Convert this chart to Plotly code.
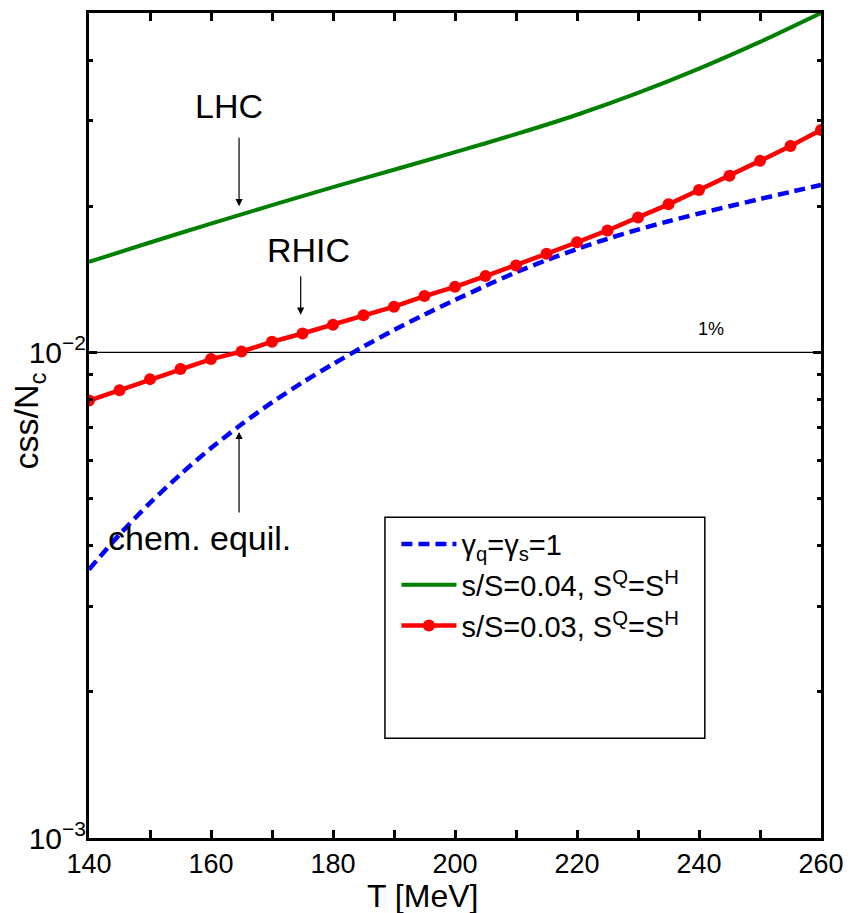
import math
import plotly.graph_objects as go

# ---- data ----
T_red = [140, 145, 150, 155, 160, 165, 170, 175, 180, 185, 190, 195, 200,
         205, 210, 215, 220, 225, 230, 235, 240, 245, 250, 255, 260]
css_red = [0.00796, 0.00836, 0.00881, 0.00924, 0.00969, 0.01004, 0.01052,
           0.01094, 0.01140, 0.01193, 0.01242, 0.01306, 0.01365, 0.01436,
           0.01510, 0.01596, 0.01686, 0.01783, 0.01897, 0.02018, 0.02160,
           0.02310, 0.02480, 0.02660, 0.02870]

T_blue = [140, 145, 150, 155, 160, 165, 170, 175, 180, 185, 190, 195, 200,
          205, 210, 215, 220, 225, 230, 235, 240, 245, 250, 255, 260]
css_blue = [0.003573, 0.004217, 0.004898, 0.005610, 0.006353, 0.007112,
            0.007889, 0.008670, 0.009462, 0.010280, 0.011117, 0.011967,
            0.012823, 0.013709, 0.014622, 0.015488, 0.016331, 0.017140,
            0.017906, 0.018621, 0.019320, 0.020000, 0.020701, 0.021404,
            0.022131]

T_green = [140, 150, 160, 170, 180, 190, 200, 210, 220, 230, 240, 250, 260]
css_green = [0.01536, 0.01684, 0.01842, 0.02010, 0.02190, 0.02378, 0.02585,
             0.02815, 0.03086, 0.03422, 0.03840, 0.04359, 0.05000]

T_ref = [140, 260]
css_ref = [0.01, 0.01]

x_ticks = [140, 160, 180, 200, 220, 240, 260]
x_minor = [150, 170, 190, 210, 230, 250]
y_ticks = [0.001, 0.01]
y_ticktext = ["10<sup>−3</sup>", "10<sup>−2</sup>"]
y_minor = [0.002, 0.003, 0.004, 0.005, 0.006, 0.007, 0.008, 0.009,
           0.02, 0.03, 0.04, 0.05]

FONT = "Liberation Sans, Arial, sans-serif"

fig = go.Figure()

fig.add_trace(go.Scatter(x=T_ref, y=css_ref, mode="lines",
                         line=dict(color="black", width=1.2),
                         showlegend=False, hoverinfo="skip"))

fig.add_trace(go.Scatter(x=T_blue, y=css_blue, mode="lines",
                         name="γ<sub>q</sub>=γ<sub>s</sub>=1",
                         line=dict(color="#0000FF", width=4.5, dash="11px,6px",
                                   shape="spline", smoothing=0.8)))
fig.add_trace(go.Scatter(x=T_green, y=css_green, mode="lines",
                         name="s/S=0.04, S<sup>Q</sup>=S<sup>H</sup>",
                         line=dict(color="#008000", width=4,
                                   shape="spline", smoothing=0.8)))
fig.add_trace(go.Scatter(x=T_red, y=css_red, mode="lines+markers",
                         name="s/S=0.03, S<sup>Q</sup>=S<sup>H</sup>",
                         line=dict(color="#FF0000", width=4.5),
                         marker=dict(color="#FF0000", size=12, symbol="circle")))

axis_common = dict(
    showline=True, linecolor="black", linewidth=3, mirror="allticks",
    ticks="inside", tickcolor="black", tickwidth=3, showgrid=False,
    zeroline=False,
)

fig.update_xaxes(range=[140, 260], tickvals=x_ticks, ticklen=8,
                 tickfont=dict(family=FONT, size=27, color="black"),
                 minor=dict(tickvals=x_minor, ticks="inside", ticklen=8,
                            tickcolor="black", tickwidth=3),
                 **axis_common)
fig.update_yaxes(type="log", range=[-3, math.log10(0.05)], tickvals=y_ticks,
                 ticktext=y_ticktext, ticklen=8,
                 tickfont=dict(family=FONT, size=30, color="black"),
                 ticklabelstandoff=-6,
                 minor=dict(tickvals=y_minor, ticks="inside", ticklen=4,
                            tickcolor="black", tickwidth=3),
                 **axis_common)

ann_font = dict(family=FONT, size=34, color="black")
annotations = [
    # labels
    dict(x=163.0, y=0.0321, text="LHC", showarrow=False, font=ann_font),
    dict(x=176.0, y=0.01625, text="RHIC", showarrow=False, font=ann_font),
    dict(x=158.1, y=0.00414, text="chem. equil.", showarrow=False, font=ann_font),
    dict(x=241.9, y=0.0112, text="1%", showarrow=False,
         font=dict(family=FONT, size=18, color="black")),
    # arrows
    dict(x=164.6, y=0.0200, ax=0, ay=-70, text="", showarrow=True,
         arrowhead=2, arrowsize=1.2, arrowwidth=1.2, arrowcolor="black"),
    dict(x=174.7, y=0.01196, ax=0, ay=-40, text="", showarrow=True,
         arrowhead=2, arrowsize=1.2, arrowwidth=1.2, arrowcolor="black"),
    dict(x=164.6, y=0.00686, ax=0, ay=82, text="", showarrow=True,
         arrowhead=2, arrowsize=1.2, arrowwidth=1.2, arrowcolor="black"),
    # axis titles
    dict(xref="paper", yref="paper", x=0.456, y=-0.0705, text="T [MeV]",
         showarrow=False, font=dict(family=FONT, size=32, color="black"),
         yanchor="middle"),
    dict(xref="paper", yref="paper", x=-0.082, y=0.506, text="css/N<sub>c</sub>",
         showarrow=False, font=ann_font, textangle=-90, xanchor="center",
         yanchor="middle"),
]
# annotations on a logarithmic axis take log10 of y
for a in annotations:
    if a.get("yref") != "paper":
        a["y"] = math.log10(a["y"])

fig.update_layout(
    width=854, height=913,
    margin=dict(l=89, r=28, t=10, b=75),
    plot_bgcolor="white", paper_bgcolor="white",
    font=dict(family=FONT, color="black"),
    annotations=annotations,
    showlegend=True,
    legend=dict(x=0.42, y=0.387, xanchor="left", yanchor="top",
                bgcolor="rgba(0,0,0,0)", borderwidth=0,
                font=dict(family=FONT, size=29, color="black"),
                itemwidth=55, tracegroupgap=6),
    shapes=[dict(type="rect", xref="paper", yref="paper",
                 x0=0.4043, x1=0.8413, y0=0.1208, y1=0.3889,
                 line=dict(color="black", width=1.5), fillcolor="white",
                 layer="below")],
)

fig.write_html("out.html")
